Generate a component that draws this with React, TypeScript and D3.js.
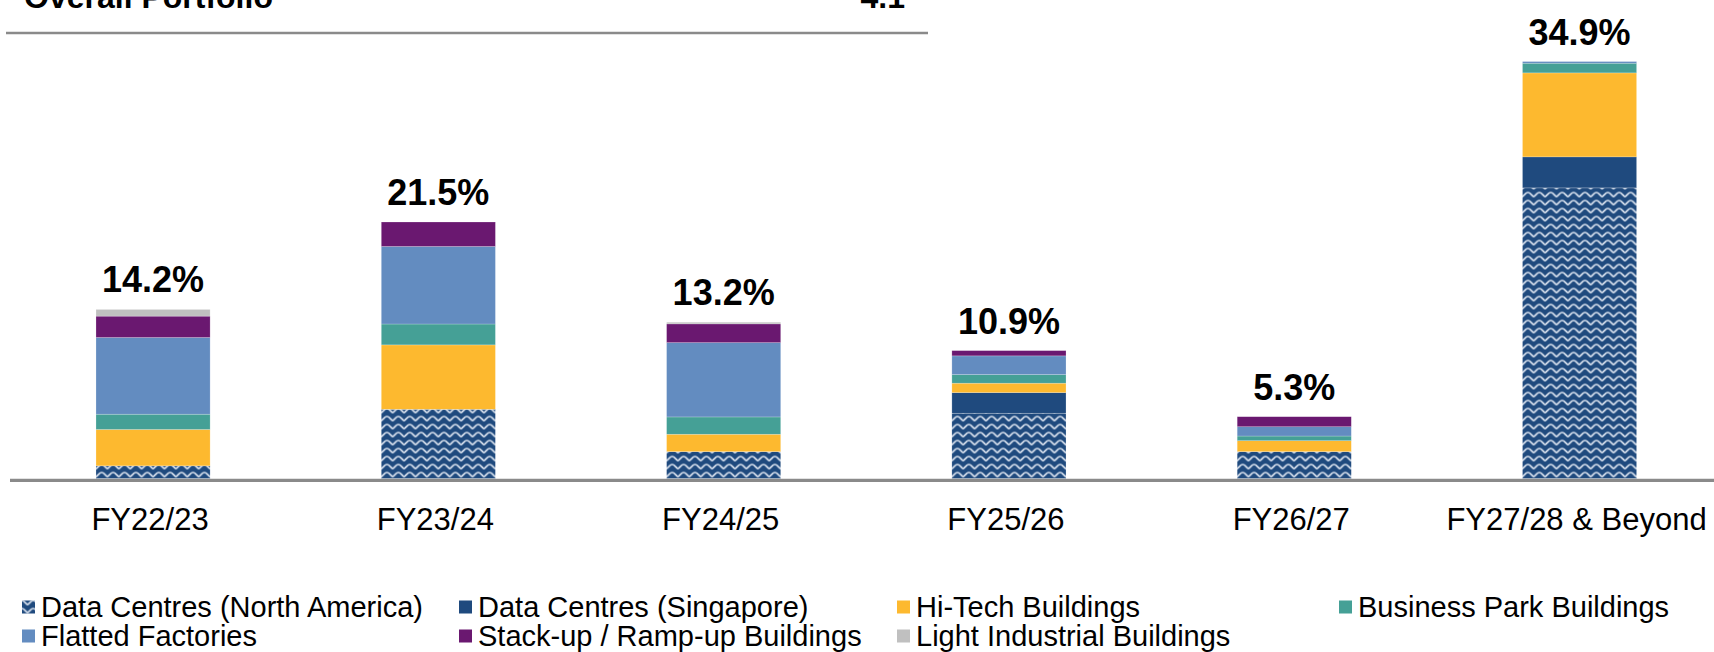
import React from "react";
import * as d3 from "d3";

const categories = ["FY22/23", "FY23/24", "FY24/25", "FY25/26", "FY26/27", "FY27/28 & Beyond"];
const totalLabels = ["14.2%", "21.5%", "13.2%", "10.9%", "5.3%", "34.9%"];

const dcNorthAmerica = [1.06, 5.8, 2.25, 5.47, 2.25, 24.36];
const dcSingapore = [0, 0, 0, 1.73, 0, 2.6];
const hiTech = [3.05, 5.4, 1.46, 0.79, 0.92, 7.04];
const businessPark = [1.28, 1.75, 1.45, 0.72, 0.39, 0.81];
const flattedFactories = [6.43, 6.5, 6.23, 1.57, 0.78, 0.14];
const stackUp = [1.79, 2.05, 1.57, 0.44, 0.84, 0];
const lightIndustrial = [0.56, 0, 0.14, 0, 0, 0];

const seriesNames = [
  "Data Centres (North America)",
  "Data Centres (Singapore)",
  "Hi-Tech Buildings",
  "Business Park Buildings",
  "Flatted Factories",
  "Stack-up / Ramp-up Buildings",
  "Light Industrial Buildings",
];
const seriesValues = [dcNorthAmerica, dcSingapore, hiTech, businessPark, flattedFactories, stackUp, lightIndustrial];
const seriesColors = ["url(#wave)", "#1F4A7E", "#FDB92F", "#45A096", "#638CC0", "#6A1870", "#C0C0C0"];

const headerLabel = "Overall Portfolio";
const headerValue = "4.1";

const FONT = "'Liberation Sans', Arial, Helvetica, sans-serif";

export default function App() {
  const W = 1714;
  const H = 652;
  const x = d3
    .scaleBand<string>()
    .domain(categories)
    .range([10.4, 1722.2])
    .paddingInner(0.6)
    .paddingOuter(0.3);
  const y = d3.scaleLinear().domain([0, 35]).range([478.5, 478.5 - 35 * 11.93]);

  const rows = categories.map((c, i) => {
    const r: any = { cat: c };
    seriesNames.forEach((s, j) => (r[s] = seriesValues[j][i]));
    return r;
  });
  const stack = d3.stack<any>().keys(seriesNames)(rows);
  const totals = categories.map((_, i) => d3.sum(seriesValues, (s) => s[i]));

  const legendCols = [22, 459, 897, 1339];
  const legendRows = [607, 636];
  const pw = 114.1 / 10;

  return (
    <svg width={W} height={H} style={{ position: "absolute", left: 0, top: 0, background: "#fff" }} fontFamily={FONT}>
      <defs>
        <pattern id="wave" width={pw} height={8} patternUnits="userSpaceOnUse" x={96} y={478.5}>
          <rect width={pw} height={8} fill="#1F4A7E" />
          <path
            d={`M0,6.4 L${pw * 0.25},3.6 Q${pw * 0.5},0.4 ${pw * 0.75},3.6 L${pw},6.4`}
            fill="none"
            stroke="#DCE4F0"
            strokeWidth={1.7}
          />
        </pattern>
      </defs>

      {/* clipped header table */}
      <text x={24} y={8} fontSize={32} fontWeight="bold" fill="#000">
        {headerLabel}
      </text>
      <text x={905} y={8} fontSize={32} fontWeight="bold" fill="#000" textAnchor="end">
        {headerValue}
      </text>
      <line x1={6} x2={928} y1={33} y2={33} stroke="#8A8A8A" strokeWidth={2.5} />

      {/* bars */}
      {stack.map((layer, j) => (
        <g key={seriesNames[j]} fill={seriesColors[j]}>
          {layer.map((d, i) =>
            d[1] - d[0] > 0 ? (
              <rect
                key={i}
                x={x(categories[i])}
                width={x.bandwidth()}
                y={y(d[1])}
                height={y(d[0]) - y(d[1])}
                stroke="#ffffff"
                strokeOpacity={0.35}
                strokeWidth={0.6}
              />
            ) : null
          )}
        </g>
      ))}

      {/* total labels */}
      {categories.map((c, i) => (
        <text
          key={c}
          x={(x(c) as number) + x.bandwidth() / 2}
          y={y(totals[i]) - 17}
          fontSize={36}
          fontWeight="bold"
          textAnchor="middle"
          fill="#000"
        >
          {totalLabels[i]}
        </text>
      ))}

      {/* axis */}
      <line x1={10} x2={W} y1={480.3} y2={480.3} stroke="#8A8A8A" strokeWidth={3.2} />
      {categories.map((c) => (
        <text
          key={c}
          x={(x(c) as number) + x.bandwidth() / 2 - 3}
          y={530}
          fontSize={31}
          textAnchor="middle"
          fill="#000"
        >
          {c}
        </text>
      ))}

      {/* legend */}
      {seriesNames.map((s, j) => {
        const col = j < 4 ? j : j - 4;
        const row = j < 4 ? 0 : 1;
        const lx = legendCols[col];
        const ly = legendRows[row];
        return (
          <g key={s}>
            <rect x={lx} y={ly - 6.5} width={13} height={13} fill={seriesColors[j]} />
            <text x={lx + 19} y={ly + 10} fontSize={29} fill="#000">
              {s}
            </text>
          </g>
        );
      })}
    </svg>
  );
}
